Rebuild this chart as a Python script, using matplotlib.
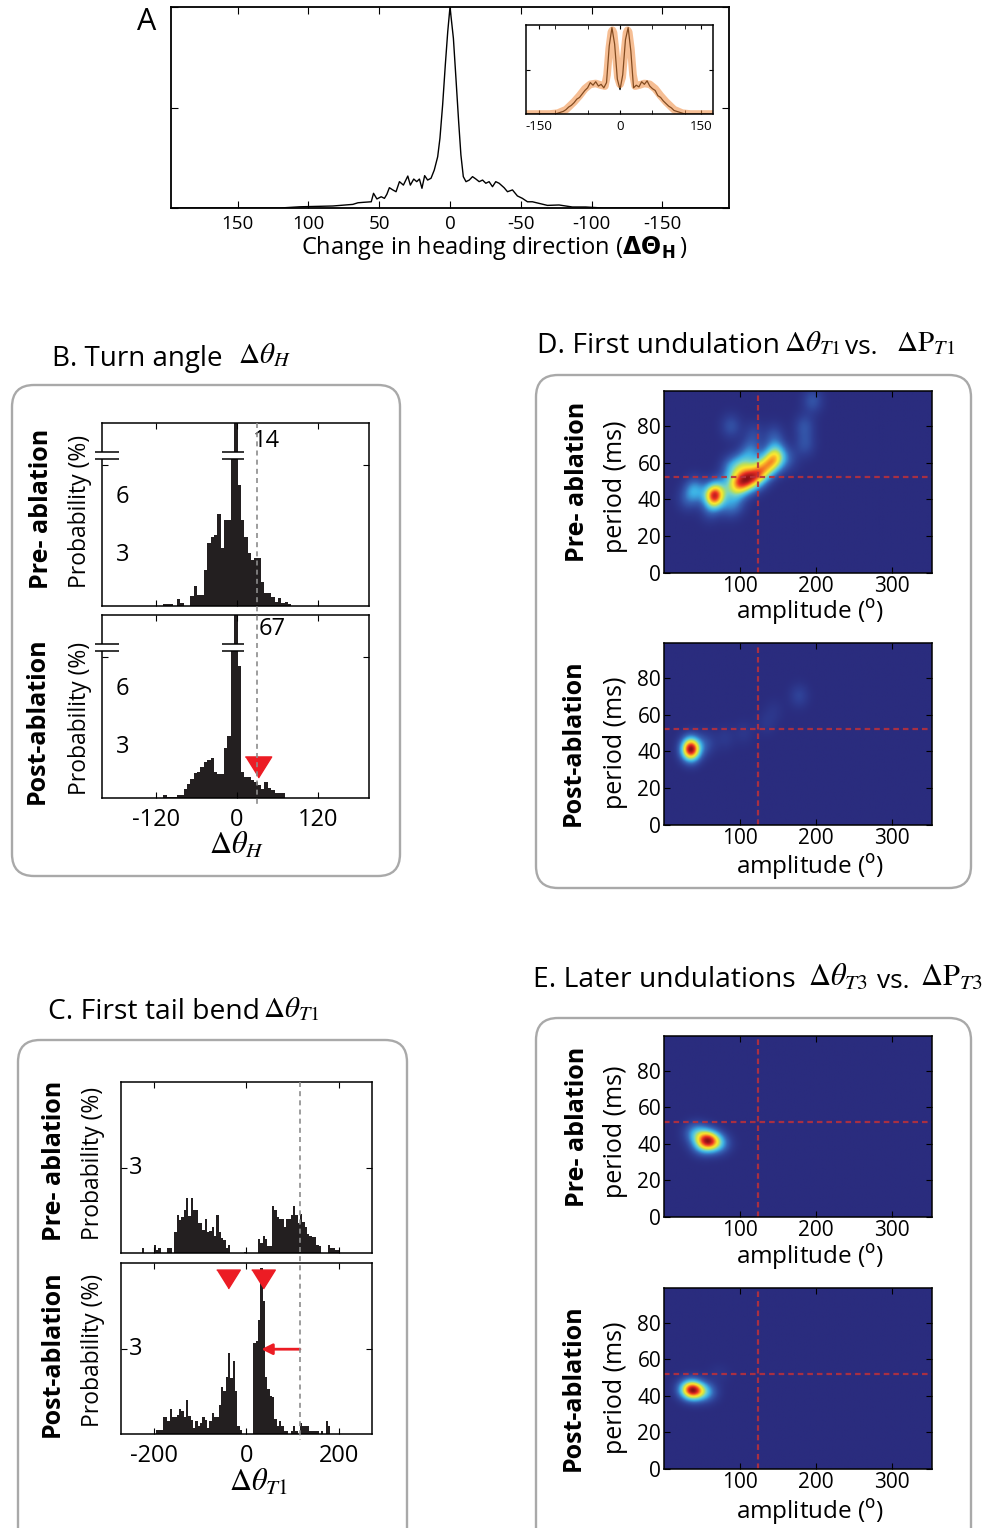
import numpy as np
import matplotlib
matplotlib.use('Agg')
import matplotlib.pyplot as plt
from matplotlib.patches import FancyBboxPatch
from matplotlib.lines import Line2D
from matplotlib.colors import LinearSegmentedColormap
from matplotlib.transforms import blended_transform_factory

plt.rcParams['font.family'] = ['Open Sans', 'DejaVu Sans']
plt.rcParams['mathtext.fontset'] = 'stix'
plt.rcParams['axes.unicode_minus'] = False
plt.rcParams['axes.linewidth'] = 1.1

# ---------------- data ----------------
# A: change in heading direction, all bouts (peak normalised)
heading_x = [197, 120, 106.1, 82.7, 68.6, 65.0, 61.5, 55.6, 54.0, 51.6, 48.6, 46.3, 44.6, 42.8,
             40.4, 38.1, 35.7, 32.9, 29.8, 28.0, 25.6, 23.5, 21.6, 19.8, 17.9, 15.8, 13.4, 11.1,
             8.7, 7.1, 5.2, 3.3, 1.6, 0, -2.4, -4.2, -6.1, -7.7, -9.4, -11.3, -13.6, -15.9,
             -18.3, -20.6, -23.0, -25.3, -27.6, -30.0, -32.3, -34.7, -38.2, -40.6, -44.1, -47.6,
             -51.1, -54.7, -58.2, -62.9, -68.8, -77.0, -86.4, -95.8, -108, -197]
heading_y = [0, 0, 0.006, 0.010, 0.018, 0.026, 0.028, 0.031, 0.073, 0.045, 0.056, 0.048, 0.068, 0.101,
             0.090, 0.081, 0.131, 0.114, 0.159, 0.114, 0.144, 0.131, 0.144, 0.098, 0.161, 0.139, 0.148, 0.189,
             0.255, 0.347, 0.513, 0.713, 0.877, 1.0, 0.844, 0.645, 0.430, 0.264, 0.156, 0.131, 0.139, 0.156,
             0.144, 0.131, 0.139, 0.123, 0.131, 0.106, 0.131, 0.123, 0.101, 0.081, 0.090, 0.060,
             0.048, 0.031, 0.031, 0.023, 0.013, 0.015, 0.005, 0.005, 0, 0]

# A inset: first heading change (raw trace and smooth fit)
dh1_x = [-174, -120, -115, -110, -105, -100, -95, -90, -85, -80, -75, -70, -65, -60, -55, -50,
         -45, -40, -35, -30, -25, -20, -15, -10, -5, 0, 5, 10, 15, 20, 25, 30, 35, 40, 45, 50,
         55, 60, 65, 70, 75, 80, 85, 90, 95, 100, 105, 110, 115, 120, 172]
dh1_raw = [0, 0, 0.01, 0.02, 0.03, 0.05, 0.08, 0.10, 0.13, 0.17, 0.19, 0.23, 0.27, 0.30, 0.36, 0.33,
           0.37, 0.32, 0.34, 0.30, 0.36, 0.78, 0.99, 0.80, 0.40, 0.28, 0.45, 0.85, 0.99, 0.72, 0.30,
           0.33, 0.31, 0.37, 0.34, 0.38, 0.32, 0.29, 0.27, 0.21, 0.19, 0.15, 0.12, 0.09, 0.07, 0.04,
           0.03, 0.02, 0.01, 0, 0]
dh1_fit_x = [-174, -130, -115, -100, -85, -75, -65, -55, -45, -35, -28, -24, -20, -16, -14, -12,
             -8, -4, 0, 4, 8, 12, 14, 16, 20, 24, 28, 35, 45, 55, 65, 75, 85, 100, 115, 130, 172]
dh1_fit = [0, 0, 0.01, 0.05, 0.14, 0.21, 0.29, 0.34, 0.35, 0.33, 0.32, 0.45, 0.75, 0.94, 0.96, 0.93,
           0.70, 0.42, 0.34, 0.42, 0.70, 0.93, 0.96, 0.94, 0.75, 0.45, 0.32, 0.33, 0.35, 0.34, 0.29,
           0.21, 0.14, 0.05, 0.01, 0, 0]

# B: turn angle histograms, 5 deg bins (probability %)
turn_centers = np.arange(-106.5, 80, 5)
turn_pre = [0.09, 0.09, 0.09, 0, 0.36, 0.14, 0, 0, 0.52, 1.04,
            0.57, 0.57, 1.87, 3.25, 3.59, 3.68, 4.8, 2.99, 4.49, 4.49,
            7.9, 14, 6.27, 4.46, 3.59, 2.73, 2.38, 2.47, 2.47, 1.26,
            0.66, 0.69, 0.48, 0.22, 0.4, 0.17, 0.22, 0.1]
turn_post = [0.14, 0.05, 0.05, 0.05, 0.17, 0.17, 0.48, 0.74, 1.0, 1.3,
             1.35, 1.61, 1.87, 1.99, 2.07, 1.35, 1.26, 1.26, 2.6, 3.21,
             7.9, 67, 6.87, 1.35, 1.09, 1.09, 0.92, 0.83, 0.66, 0.48,
             0.83, 0.52, 0.4, 0.26, 0.26, 0.26, 0, 0]
turn_cut = 30
turn_post_marker = 31

# C: first tail bend histograms, 5 deg bins
bend_centers = np.arange(-222.5, 200, 5)
bend_pre = [0.16, 0, 0, 0, 0, 0.29, 0.1, 0.16, 0, 0,
            0, 0.16, 0.16, 0, 0.76, 1.35, 1.18, 1.27, 1.53, 1.94,
            1.32, 1.94, 1.53, 1.53, 1.06, 1.06, 0.82, 1.2, 0.76, 0.78,
            0.92, 0.6, 1.35, 0.76, 0.52, 0.46, 0.16, 0.29, 0, 0,
            0, 0, 0, 0, 0.04, 0, 0, 0, 0, 0,
            0.49, 0.35, 0.61, 0.49, 0.25, 0.25, 1.65, 1.53, 1.27, 1.2,
            1.2, 0.92, 1.2, 1.2, 1.35, 1.65, 1.35, 1.06, 1.39, 1.1,
            0.92, 0.68, 0.61, 0.57, 0.57, 0.29, 0.25, 0, 0, 0,
            0.29, 0.16, 0.16, 0.1, 0.1]
bend_post = [0, 0, 0, 0, 0, 0, 0.15, 0.15, 0.15, 0.59,
             0.59, 0.45, 0.9, 0.59, 0.59, 0.68, 0.9, 0.8, 0.59, 1.19,
             0.63, 0.51, 0.22, 0.45, 0.28, 0.4, 0.59, 0.51, 0.22, 0.45,
             0.74, 0.59, 0.59, 1.04, 1.65, 1.51, 2.0, 2.86, 1.98, 2.57,
             1.51, 0.3, 0.15, 0, 0, 0, 0, 0, 3.21, 3.3,
             4.04, 5.87, 4.69, 2.0, 1.6, 1.33, 1.3, 0.53, 0.3, 0.45,
             0.3, 0.1, 0.1, 0, 0.1, 0.3, 0.1, 0, 0.39, 0.3,
             0.3, 0.3, 0.1, 0.1, 0.1, 0.1, 0, 0.1, 0, 0.45,
             0.28, 0, 0, 0, 0]
bend_cut = 115
bend_post_peaks = [-40, 35]

# D / E: density kernel centres (amplitude deg, period ms, weight)
d_pre_amp = [66, 40, 92, 100, 108, 116, 125, 134, 143, 150, 103, 88, 114, 146, 88, 145, 185, 196, 186,
             30, 60, 85, 118, 165, 95, 75]
d_pre_per = [42, 45, 47, 49, 50, 52, 54, 58, 61, 63, 59, 57, 66, 67, 80, 75, 80, 94, 70,
             40, 34, 36, 76, 62, 38, 47]
d_pre_w = [0.85, 0.3, 0.3, 0.34, 0.35, 0.36, 0.4, 0.37, 0.32, 0.25, 0.3, 0.24, 0.22, 0.16, 0.14, 0.12,
           0.14, 0.15, 0.13, 0.12, 0.11, 0.13, 0.1, 0.1, 0.14, 0.12]
d_post_amp = [35, 55, 80, 105, 135, 145, 178]
d_post_per = [41, 44, 47, 50, 55, 62, 70]
d_post_w = [1.0, 0.12, 0.06, 0.05, 0.05, 0.04, 0.1]
e_pre_amp = [58, 42, 72, 50]
e_pre_per = [42, 46, 40, 39]
e_pre_w = [1.0, 0.4, 0.35, 0.3]
e_post_amp = [38, 55, 72, 30]
e_post_per = [43, 42, 52, 44]
e_post_w = [1.0, 0.35, 0.05, 0.3]
amp_cut = 124
per_cut = 52

# ---------------- figure ----------------
W, H = 989, 1528
fig = plt.figure(figsize=(W / 100, H / 100), dpi=100)

# pixel-space overlay for boxes and free text
bg = fig.add_axes([0, 0, 1, 1], zorder=-1)
bg.set_xlim(0, W)
bg.set_ylim(H, 0)
bg.axis('off')


def add_ax(x0, y0, x1, y1):
    return fig.add_axes([x0 / W, 1 - y1 / H, (x1 - x0) / W, (y1 - y0) / H])


def box(x0, y0, x1, y1):
    bg.add_patch(FancyBboxPatch((x0, y0), x1 - x0, y1 - y0,
                                boxstyle='round,pad=0,rounding_size=22',
                                fc='none', ec='#a9a9a9', lw=1.7))


def ptext(x, y, s, **kw):
    kw.setdefault('ha', 'center')
    kw.setdefault('va', 'center')
    bg.text(x, y, s, **kw)


black = '#231f20'
red = '#ec1c24'
gray = '#8c8c8c'
tri = [(-1, 0.8), (1, 0.8), (0, -0.8)]

# ---- A ----
axA = add_ax(171, 7, 729, 208)
axA.plot(heading_x, heading_y, color='k', lw=1.0)
axA.set_xlim(197, -197)
axA.set_ylim(0, 1)
axA.set_xticks([150, 100, 50, 0, -50, -100, -150])
axA.set_yticks([0, 0.5, 1])
axA.set_yticklabels([])
axA.tick_params(direction='in', top=True, right=True, labelsize=13.5, pad=5, length=5)
for s in axA.spines.values():
    s.set_linewidth(1.3)
ptext(147, 22, 'A', fontsize=22)
ptext(301, 248, r'Change in heading direction ($\mathbf{\Delta\Theta}_{\mathbf{H}}\,$)',
      ha='left', fontsize=17, math_fontfamily='dejavusans')

axI = add_ax(526, 25, 713, 114)
axI.plot(dh1_x, dh1_raw, color='k', lw=0.9)
axI.plot(dh1_fit_x, dh1_fit, color='#f08a3c', lw=5.5, alpha=0.55, solid_capstyle='round')
axI.set_xlim(-174, 172)
axI.set_ylim(0, 1.02)
axI.set_xticks([-150, 0, 150])
axI.set_xticks([-120, -60, 60, 120], minor=True)
axI.set_yticks([0.5])
axI.set_yticklabels([])
axI.tick_params(which='both', direction='in', top=True, right=True, labelsize=9.5, pad=4, length=3)
ptext(620, 142, r'$\mathbf{\Delta\Theta}_{\mathbf{H1}}$', fontsize=9.5, math_fontfamily='dejavusans')

# ---- B ----
box(12, 385, 400, 876)
ptext(52, 359, 'B. Turn angle', ha='left', fontsize=20)
ptext(238, 356, r'$\Delta\theta_{H}$', ha='left', fontsize=21)

b_axes = [add_ax(102, 423, 369, 606), add_ax(102, 615, 369, 798)]
for ax, vals, top_lab, lab_xy in zip(b_axes, [turn_pre, turn_post], ['14', '67'], [(44, 8.55), (53, 8.76)]):
    ax.bar(turn_centers, vals, width=5, color=black, lw=0)
    ax.set_xlim(-200, 196)
    ax.set_ylim(0, 9.5)
    ax.set_xticks([-120, 0, 120])
    ax.set_yticks([7.3])
    ax.set_yticklabels([])
    ax.tick_params(direction='in', top=True, right=True, labelsize=17, pad=7, length=4)
    # axis break on the tall centre bar and on the left spine
    ax.fill_between([-22, 10], 7.65, 8.0, color='white', lw=0, zorder=3)
    ax.hlines([7.65, 8.0], -22, 10, color='k', lw=1.1, zorder=4)
    br = ax.fill_between([-210, -175], 7.65, 8.0, color='white', lw=0, zorder=5)
    br.set_clip_on(False)
    ax.hlines([7.65, 8.0], -210, -175, color='k', lw=1.1, zorder=6, clip_on=False)
    ax.text(lab_xy[0], lab_xy[1], top_lab, fontsize=17, ha='center', va='center')
    ax.text(0.078, 5.66, '6', fontsize=17, ha='center', va='center',
            transform=blended_transform_factory(ax.transAxes, ax.transData))
    ax.text(0.078, 2.66, '3', fontsize=17, ha='center', va='center',
            transform=blended_transform_factory(ax.transAxes, ax.transData))
b_axes[0].tick_params(labelbottom=False)
b_axes[1].plot([turn_post_marker], [1.6], marker=tri, color=red, ms=19, ls='none', zorder=7)
fig.add_artist(Line2D([turn_cut, turn_cut], [423, 806], color=gray, lw=1.2, ls=(0, (3, 2.5)),
                      transform=blended_transform_factory(b_axes[0].transData, bg.transData), zorder=5))
ptext(42, 509, 'Pre- ablation', rotation=90, fontsize=18, fontweight='bold')
ptext(80, 511, 'Probability (%)', rotation=90, fontsize=16.5)
ptext(37, 721, 'Post-ablation', rotation=90, fontsize=18, fontweight='bold')
ptext(80, 718, 'Probability (%)', rotation=90, fontsize=16.5)
ptext(237, 846, r'$\Delta\theta_{H}$', fontsize=22)

# ---- C ----
box(18, 1040, 407, 1560)
ptext(48, 1012, 'C. First tail bend', ha='left', fontsize=20.3)
ptext(263, 1010, r'$\Delta\theta_{T1}$', ha='left', fontsize=21)
c_axes = [add_ax(121, 1082, 372, 1253), add_ax(121, 1263, 372, 1434)]
for ax, vals in zip(c_axes, [bend_pre, bend_post]):
    ax.bar(bend_centers, vals, width=5, color=black, lw=0)
    ax.set_xlim(-270, 270)
    ax.set_ylim(0, 6.05)
    ax.set_xticks([-200, 0, 200])
    ax.set_yticks([3])
    ax.set_yticklabels([])
    ax.tick_params(direction='in', top=True, right=True, labelsize=17, pad=7, length=4)
    ax.text(0.058, 3, '3', fontsize=17, ha='center', va='center',
            transform=blended_transform_factory(ax.transAxes, ax.transData))
c_axes[0].tick_params(labelbottom=False)
c_axes[1].plot(bend_post_peaks, [5.5, 5.5], marker=tri, color=red, ms=17, ls='none', zorder=7)
c_axes[1].annotate('', xy=(32, 3), xytext=(bend_cut, 3),
                   arrowprops=dict(arrowstyle='-|>', color=red, lw=2, mutation_scale=16,
                                   shrinkA=0, shrinkB=0))
fig.add_artist(Line2D([bend_cut, bend_cut], [1082, 1440], color=gray, lw=1.2, ls=(0, (3, 2.5)),
                      transform=blended_transform_factory(c_axes[0].transData, bg.transData), zorder=5))
ptext(55, 1161, 'Pre- ablation', rotation=90, fontsize=18, fontweight='bold')
ptext(93, 1163, 'Probability (%)', rotation=90, fontsize=16.5)
ptext(52, 1354, 'Post-ablation', rotation=90, fontsize=18, fontweight='bold')
ptext(93, 1350, 'Probability (%)', rotation=90, fontsize=16.5)
ptext(258, 1483, r'$\Delta\theta_{T1}$', fontsize=22)

# ---- D / E heatmaps ----
cmap = LinearSegmentedColormap.from_list('washed_jet', [
    (0.0, '#2a2c7e'), (0.08, '#2e3d93'), (0.2, '#3662b4'), (0.35, '#3cb2e6'),
    (0.47, '#74d4c8'), (0.57, '#c4e050'), (0.67, '#fde92e'), (0.77, '#f7a027'),
    (0.88, '#ec2f24'), (1.0, '#8a1016')])
amp_grid = np.linspace(0, 353, 354)
per_grid = np.linspace(0, 99, 200)
AG, PG = np.meshgrid(amp_grid, per_grid)


def density(amps, pers, wts, sa, sp):
    z = np.zeros_like(AG)
    for a, p, w in zip(amps, pers, wts):
        z += w * np.exp(-0.5 * ((AG - a) / sa) ** 2 - 0.5 * ((PG - p) / sp) ** 2)
    return z / z.max()


def heat(ax, z):
    ax.imshow(z, extent=[0, 353, 0, 99], origin='lower', aspect='auto', cmap=cmap,
              vmin=0, vmax=1, interpolation='bilinear')
    ax.axvline(amp_cut, color='#b8303c', lw=1.6, ls=(0, (2.5, 1.8)), alpha=0.9)
    ax.axhline(per_cut, color='#b8303c', lw=1.6, ls=(0, (2.5, 1.8)), alpha=0.9)
    ax.set_xlim(0, 353)
    ax.set_ylim(0, 99)
    ax.set_xticks([100, 200, 300])
    ax.set_yticks([0, 20, 40, 60, 80])
    ax.tick_params(direction='in', top=True, right=True, labelsize=15, pad=2, length=4)


box(536, 375, 971, 888)
ptext(537, 346, 'D. First undulation', ha='left', fontsize=20.3)
ptext(784, 344, r'$\Delta\theta_{T1}$', ha='left', fontsize=21)
ptext(845, 348, 'vs.', ha='left', fontsize=19)
ptext(896, 344, r'$\Delta\mathrm{P}_{T1}$', ha='left', fontsize=21)
axD1 = add_ax(664, 391, 932, 573)
axD2 = add_ax(664, 643, 932, 825)
heat(axD1, density(d_pre_amp, d_pre_per, d_pre_w, 9.5, 4.8))
heat(axD2, density(d_post_amp, d_post_per, d_post_w, 9, 4.5))

box(536, 1018, 971, 1560)
ptext(533, 980, 'E. Later undulations', ha='left', fontsize=20.3)
ptext(808, 978, r'$\Delta\theta_{T3}$', ha='left', fontsize=22)
ptext(877, 982, 'vs.', ha='left', fontsize=19)
ptext(920, 978, r'$\Delta\mathrm{P}_{T3}$', ha='left', fontsize=22)
axE1 = add_ax(664, 1036, 932, 1217)
axE2 = add_ax(664, 1288, 932, 1469)
heat(axE1, density(e_pre_amp, e_pre_per, e_pre_w, 11, 4))
heat(axE2, density(e_post_amp, e_post_per, e_post_w, 10.5, 3.8))

for y_pre, y_post, y_amp1, y_amp2 in [(482, 743, 612, 867), (1127, 1388, 1257, 1512)]:
    ptext(577, y_pre, 'Pre- ablation', rotation=90, fontsize=18, fontweight='bold')
    ptext(573, y_post, 'Post-ablation', rotation=90, fontsize=18, fontweight='bold')
    ptext(615, y_pre + 5, 'period (ms)', rotation=90, fontsize=18)
    ptext(615, y_post, 'period (ms)', rotation=90, fontsize=18)
    ptext(810, y_amp1, r'amplitude ($^{\mathrm{o}}$)', fontsize=17.5, math_fontfamily='dejavusans')
    ptext(810, y_amp2, r'amplitude ($^{\mathrm{o}}$)', fontsize=17.5, math_fontfamily='dejavusans')

fig.savefig('out.png', dpi=100)
